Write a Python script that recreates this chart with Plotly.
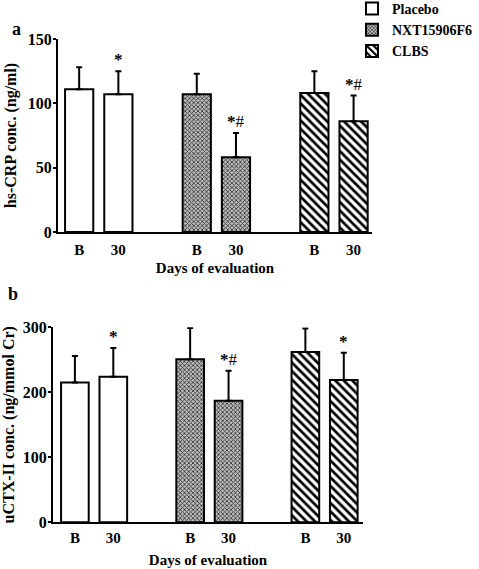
import plotly.graph_objects as go

# ---- data ----
groups = ["Placebo", "NXT15906F6", "CLBS"]
tick_labels = ["B", "30", "B", "30", "B", "30"]
positions = [[0, 1], [3, 4], [6, 7]]

crp_mean = [[111, 107], [107, 58], [108, 86]]
crp_sd = [[17, 18], [16, 19], [17, 20]]
crp_sig = [["", "*"], ["", "*#"], ["", "*#"]]

ctx_mean = [[215, 224], [251, 187], [262, 219]]
ctx_sd = [[41, 44], [48, 46], [36, 42]]
ctx_sig = [["", "*"], ["", "*#"], ["", "*"]]

FONT = "Liberation Serif"
W, H = 479, 569

styles = [
    dict(color="white", pattern=None),
    dict(color="#8c8c8c", pattern=dict(shape="x", size=3, solidity=0.45, fgcolor="#2a2a2a", bgcolor="#bdbdbd", fillmode="replace")),
    dict(color="white", pattern=dict(shape="\\", size=6, solidity=0.45, fgcolor="black", bgcolor="white", fillmode="replace")),
]

fig = go.Figure()

def add_panel(means, sds, sigs, xa, ya, showlegend):
    for g, name in enumerate(groups):
        st = styles[g]
        marker = dict(color=st["color"], line=dict(color="black", width=2))
        if st["pattern"]:
            marker["pattern"] = st["pattern"]
        fig.add_trace(go.Bar(
            x=positions[g], y=means[g], name="<b>%s</b>" % name, width=0.72,
            marker=marker, showlegend=showlegend, legendgroup=name,
            error_y=dict(type="data", symmetric=False, array=sds[g],
                         arrayminus=[0, 0], color="black", thickness=2, width=3),
            xaxis=xa, yaxis=ya,
        ))
        for i in range(2):
            s = sigs[g][i]
            if s:
                txt = "<b>*</b>" + s[1:]
                fig.add_annotation(x=positions[g][i], y=means[g][i] + sds[g][i],
                                   xref=xa, yref=ya, text=txt, showarrow=False,
                                   yanchor="bottom", yshift=0,
                                   font=dict(family=FONT, size=17, color="black"))

add_panel(crp_mean, crp_sd, crp_sig, "x", "y", True)
add_panel(ctx_mean, ctx_sd, ctx_sig, "x2", "y2", False)

axis_common = dict(showline=True, linecolor="black", linewidth=2, showgrid=False,
                   zeroline=False, automargin=False)
xfont = dict(family=FONT, size=15, color="black")
yfont = dict(family=FONT, size=16, color="black")
flat = [p for pair in positions for p in pair]

fig.update_layout(
    width=W, height=H, margin=dict(l=0, r=0, t=0, b=0, autoexpand=False),
    plot_bgcolor="white", paper_bgcolor="white", barmode="overlay",
    font=dict(family=FONT, color="black"),
    xaxis=dict(domain=[58 / W, 372 / W], range=[-0.54, 7.47], tickvals=flat,
               ticktext=["<b>%s</b>" % t for t in tick_labels], ticks="", ticklabelstandoff=3,
               tickfont=xfont, anchor="y",
               title=dict(text="<b>Days of evaluation</b>", font=dict(family=FONT, size=15), standoff=5),
               **axis_common),
    yaxis=dict(domain=[1 - 232 / H, 1 - 39 / H], range=[0, 150], tickvals=[0, 50, 100, 150],
               ticktext=["<b>0</b>", "<b>50</b>", "<b>100</b>", "<b>150</b>"],
               ticks="outside", ticklen=3, tickwidth=2, tickcolor="black", anchor="x",
               ticklabelstandoff=-2, tickfont=yfont,
               title=dict(text="<b>hs-CRP conc. (ng/ml)</b>", font=dict(family=FONT, size=16), standoff=7),
               **axis_common),
    xaxis2=dict(domain=[53 / W, 363 / W], range=[-0.57, 7.5], tickvals=flat,
                ticktext=["<b>%s</b>" % t for t in tick_labels], ticks="", ticklabelstandoff=1,
                tickfont=xfont, anchor="y2",
                title=dict(text="<b>Days of evaluation</b>", font=dict(family=FONT, size=15), standoff=9),
                **axis_common),
    yaxis2=dict(domain=[1 - 522.3 / H, 1 - 327.3 / H], range=[0, 300], tickvals=[0, 100, 200, 300],
                ticktext=["<b>0</b>", "<b>100</b>", "<b>200</b>", "<b>300</b>"],
                ticks="outside", ticklen=3, tickwidth=2, tickcolor="black", anchor="x2",
                ticklabelstandoff=-2, tickfont=yfont,
                title=dict(text="<b>uCTX-II conc. (ng/mmol Cr)</b>", font=dict(family=FONT, size=16), standoff=7),
                **axis_common),
    legend=dict(x=352 / W, y=1 + 7 / H, xanchor="left", yanchor="top",
                font=dict(family=FONT, size=14, color="black"), bgcolor="rgba(0,0,0,0)",
                itemwidth=30, tracegroupgap=0),
)

fig.add_annotation(x=10 / W, y=1 - 17 / H, xref="paper", yref="paper", text="<b>a</b>",
                   showarrow=False, font=dict(family=FONT, size=18, color="black"))
fig.add_annotation(x=6 / W, y=1 - 294 / H, xref="paper", yref="paper", text="<b>b</b>",
                   showarrow=False, font=dict(family=FONT, size=18, color="black"))

fig.write_html("out.html", config={"displayModeBar": False},
               post_script="document.body.style.margin='0px';document.body.style.overflow='hidden';")
